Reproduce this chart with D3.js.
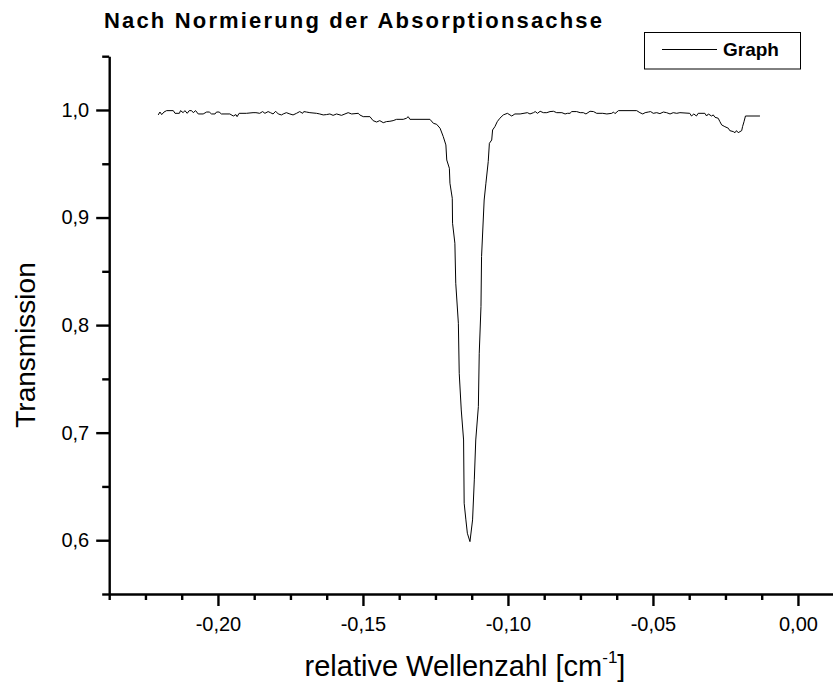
<!DOCTYPE html>
<html>
<head>
<meta charset="utf-8">
<script src="https://cdn.jsdelivr.net/npm/d3@7"></script>
<style>
  html, body { margin: 0; padding: 0; background: #fff; }
  svg { display: block; font-family: "Liberation Sans", Arial, sans-serif; }
</style>
</head>
<body>
<svg id="chart" width="833" height="690"></svg>
<script>
// ---- data ----
const wavenumber = [
  -0.2206, -0.2200, -0.2194, -0.2186, -0.2177, -0.2154, -0.2148, -0.2133, -0.2129, -0.2120,
  -0.2114, -0.2106, -0.2099, -0.2091, -0.2085, -0.2077, -0.2068, -0.2051, -0.2039, -0.2030,
  -0.2022, -0.2010, -0.2005, -0.1996, -0.1988, -0.1959, -0.1947, -0.1938, -0.1934, -0.1927,
  -0.1902, -0.1879, -0.1869, -0.1856, -0.1846, -0.1838, -0.1827, -0.1819, -0.1810, -0.1801,
  -0.1792, -0.1781, -0.1775, -0.1764, -0.1752, -0.1741, -0.1729, -0.1718, -0.1708, -0.1704,
  -0.1695, -0.1683, -0.1660, -0.1649, -0.1637, -0.1626, -0.1614, -0.1603, -0.1591, -0.1574,
  -0.1562, -0.1551, -0.1539, -0.1516, -0.1511, -0.1499, -0.1476, -0.1465, -0.1453, -0.1442,
  -0.1430, -0.1419, -0.1407, -0.1396, -0.1384, -0.1361, -0.1350, -0.1344, -0.1338, -0.1269,
  -0.1257, -0.1246, -0.1234, -0.1223, -0.1214, -0.1211, -0.1202, -0.1200, -0.1192, -0.1191,
  -0.1183, -0.1180, -0.1171, -0.1168, -0.1161, -0.1153, -0.1151, -0.1145, -0.1140, -0.1131,
  -0.1122, -0.1116, -0.1111, -0.1102, -0.1099, -0.1093, -0.1091, -0.1082, -0.1076, -0.1068,
  -0.1064, -0.1056, -0.1053, -0.1045, -0.1037, -0.1028, -0.1016, -0.1002, -0.0987, -0.0976,
  -0.0958, -0.0933, -0.0924, -0.0912, -0.0906, -0.0898, -0.0889, -0.0878, -0.0866, -0.0855,
  -0.0843, -0.0832, -0.0814, -0.0803, -0.0795, -0.0786, -0.0780, -0.0763, -0.0751, -0.0740,
  -0.0731, -0.0717, -0.0705, -0.0694, -0.0673, -0.0659, -0.0642, -0.0636, -0.0631, -0.0619,
  -0.0556, -0.0545, -0.0535, -0.0527, -0.0516, -0.0508, -0.0499, -0.0487, -0.0476, -0.0464,
  -0.0453, -0.0441, -0.0430, -0.0418, -0.0407, -0.0373, -0.0367, -0.0359, -0.0350, -0.0344,
  -0.0321, -0.0315, -0.0309, -0.0298, -0.0292, -0.0286, -0.0275, -0.0269, -0.0263, -0.0252,
  -0.0240, -0.0235, -0.0223, -0.0217, -0.0212, -0.0206, -0.0194, -0.0191, -0.0186, -0.0181,
  -0.0131
];
const transmission = [
  0.9954, 0.9981, 0.9957, 0.9981, 0.9994, 0.9994, 0.9969, 0.9969, 0.9994, 0.9975,
  0.9994, 0.9969, 0.9994, 0.9994, 0.9975, 0.9994, 0.9963, 0.9963, 0.9981, 0.9981,
  0.9963, 0.9963, 0.9981, 0.9981, 0.9963, 0.9963, 0.9944, 0.9957, 0.9938, 0.9969,
  0.9969, 0.9975, 0.9975, 0.9969, 0.9985, 0.9969, 0.9985, 0.9975, 0.9963, 0.9988,
  0.9963, 0.9954, 0.9963, 0.9975, 0.9963, 0.9954, 0.9969, 0.9985, 0.9969, 0.9985,
  0.9981, 0.9975, 0.9969, 0.9963, 0.9954, 0.9957, 0.9963, 0.9950, 0.9963, 0.9950,
  0.9963, 0.9975, 0.9963, 0.9969, 0.9954, 0.9938, 0.9938, 0.9901, 0.9888, 0.9901,
  0.9882, 0.9892, 0.9895, 0.9901, 0.9913, 0.9913, 0.9923, 0.9938, 0.9913, 0.9913,
  0.9876, 0.9867, 0.9830, 0.9752, 0.9675, 0.9535, 0.9458, 0.9319, 0.9179, 0.8947,
  0.8761, 0.8389, 0.8017, 0.7552, 0.7211, 0.6932, 0.6344, 0.6189, 0.6065, 0.5987,
  0.6189, 0.6561, 0.6932, 0.7242, 0.7738, 0.8172, 0.8637, 0.9163, 0.9319, 0.9520,
  0.9690, 0.9721, 0.9814, 0.9845, 0.9891, 0.9923, 0.9954, 0.9969, 0.9944, 0.9963,
  0.9963, 0.9975, 0.9963, 0.9975, 0.9985, 0.9969, 0.9988, 0.9975, 0.9975, 0.9985,
  0.9988, 0.9975, 0.9975, 0.9963, 0.9969, 0.9969, 0.9985, 0.9985, 0.9975, 0.9975,
  0.9963, 0.9988, 0.9985, 0.9969, 0.9969, 0.9963, 0.9969, 0.9981, 0.9966, 0.9994,
  0.9994, 0.9975, 0.9963, 0.9975, 0.9981, 0.9985, 0.9969, 0.9975, 0.9966, 0.9981,
  0.9975, 0.9963, 0.9975, 0.9969, 0.9975, 0.9969, 0.9944, 0.9963, 0.9944, 0.9969,
  0.9969, 0.9944, 0.9963, 0.9944, 0.9954, 0.9932, 0.9923, 0.9891, 0.9861, 0.9845,
  0.9830, 0.9808, 0.9799, 0.9789, 0.9808, 0.9789, 0.9808, 0.9845, 0.9891, 0.9944,
  0.9944
];
const xTickValues = [-0.20, -0.15, -0.10, -0.05, 0.00];
const xTickLabels = ["-0,20", "-0,15", "-0,10", "-0,05", "0,00"];
const yTickValues = [0.6, 0.7, 0.8, 0.9, 1.0];
const yTickLabels = ["0,6", "0,7", "0,8", "0,9", "1,0"];
const titleText = "Nach Normierung der Absorptionsachse";
const xTitle = "relative Wellenzahl [cm";
const yTitle = "Transmission";
const legendLabel = "Graph";

// ---- layout ----
const svg = d3.select("#chart");
const x = d3.scaleLinear().domain([-0.2375, 0.0125]).range([109.2, 834.2]);
const y = d3.scaleLinear().domain([0.55, 1.05]).range([594, 56.2]);
const FONT = '"Liberation Sans", Arial, sans-serif';
const AXW = 2.4;

const xMinor = d3.range(0, 21).map(i => -0.2375 + i * 0.0125)
  .filter(v => !xTickValues.some(t => Math.abs(t - v) < 1e-6));
const yMinor = [0.55, 0.65, 0.75, 0.85, 0.95, 1.05];

// minor ticks
svg.append("g").attr("transform", `translate(0,${y(0.55)})`)
  .call(d3.axisBottom(x).tickValues(xMinor).tickSize(6).tickSizeOuter(0).tickFormat(""))
  .call(g => g.select(".domain").remove())
  .selectAll("line").attr("stroke", "#000").attr("stroke-width", AXW);
svg.append("g").attr("transform", `translate(${x(-0.2375)},0)`)
  .call(d3.axisLeft(y).tickValues(yMinor).tickSize(7).tickSizeOuter(0).tickFormat(""))
  .call(g => g.select(".domain").remove())
  .selectAll("line").attr("stroke", "#000").attr("stroke-width", AXW);

// major x axis
const gx = svg.append("g").attr("transform", `translate(0,${y(0.55)})`)
  .call(d3.axisBottom(x).tickValues(xTickValues).tickSize(12).tickSizeOuter(0).tickPadding(11)
    .tickFormat((d, i) => xTickLabels[i]));
gx.select(".domain").attr("stroke", "#000").attr("stroke-width", AXW);
gx.selectAll(".tick line").attr("stroke", "#000").attr("stroke-width", AXW);
gx.selectAll(".tick text").attr("fill", "#000").attr("font-size", 20).attr("font-family", FONT);

// major y axis
const gy = svg.append("g").attr("transform", `translate(${x(-0.2375)},0)`)
  .call(d3.axisLeft(y).tickValues(yTickValues).tickSize(13).tickSizeOuter(0).tickPadding(7)
    .tickFormat((d, i) => yTickLabels[i]));
gy.select(".domain").attr("stroke", "#000").attr("stroke-width", AXW);
gy.selectAll(".tick line").attr("stroke", "#000").attr("stroke-width", AXW);
gy.selectAll(".tick text").attr("fill", "#000").attr("font-size", 20).attr("font-family", FONT);

// data line
const pts = wavenumber.map((w, i) => [w, transmission[i]]);
svg.append("path").datum(pts)
  .attr("fill", "none").attr("stroke", "#000").attr("stroke-width", 1)
  .attr("d", d3.line().x(d => x(d[0])).y(d => y(d[1])));

// title
svg.append("text").attr("x", 104).attr("y", 28)
  .attr("font-family", FONT).attr("font-weight", "bold").attr("font-size", 22)
  .attr("textLength", 498).attr("lengthAdjust", "spacing")
  .text(titleText);

// x title with superscript
const xt = svg.append("text").attr("x", 465).attr("y", 676).attr("text-anchor", "middle")
  .attr("font-family", FONT).attr("font-size", 29);
xt.append("tspan").text(xTitle);
xt.append("tspan").attr("font-size", 17).attr("dy", -13).text("-1");
xt.append("tspan").attr("dy", 13).text("]");

// y title
svg.append("text").attr("transform", "translate(35,345) rotate(-90)")
  .attr("text-anchor", "middle").attr("font-family", FONT).attr("font-size", 28)
  .text(yTitle);

// legend
const lg = svg.append("g");
lg.append("rect").attr("x", 644.5).attr("y", 32.5).attr("width", 156).attr("height", 36.5)
  .attr("fill", "#fff").attr("stroke", "#000").attr("stroke-width", 1);
lg.append("line").attr("x1", 662).attr("x2", 717).attr("y1", 49.5).attr("y2", 49.5)
  .attr("stroke", "#000").attr("stroke-width", 1);
lg.append("text").attr("x", 723).attr("y", 56).attr("font-family", FONT)
  .attr("font-weight", "bold").attr("font-size", 19).text(legendLabel);
</script>
</body>
</html>
